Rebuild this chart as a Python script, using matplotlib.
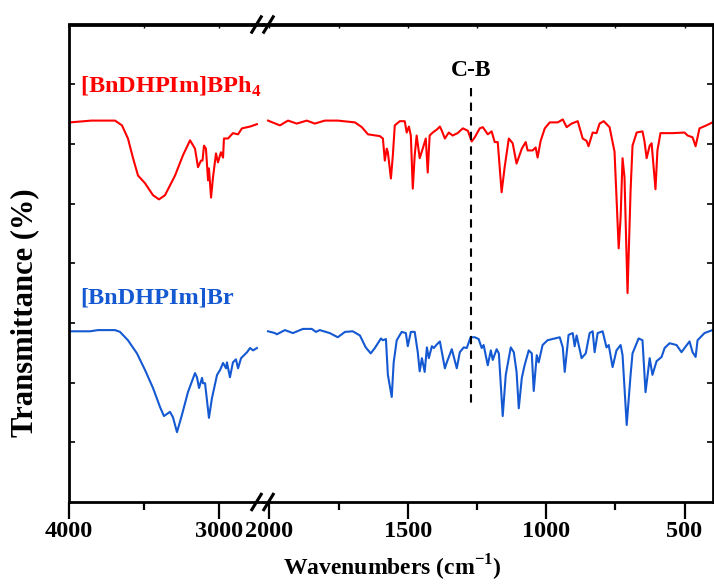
import numpy as np
from matplotlib import pyplot as plt

plt.rcParams['font.family'] = 'Liberation Serif'
plt.rcParams['font.weight'] = 'bold'
plt.rcParams['mathtext.fontset'] = 'custom'
plt.rcParams['mathtext.rm'] = 'Liberation Serif'
plt.rcParams['mathtext.bf'] = 'Liberation Serif:bold'

# [BnDHPIm]BPh4, high wavenumber part (4000 - 2750)
bph4_hi_wn = [3993, 3850, 3693, 3647, 3607, 3573, 3540, 3493, 3440, 3400, 3360, 3293, 3240,
              3193, 3160, 3140, 3120, 3110, 3100, 3087, 3073, 3067, 3053, 3040, 3020, 3007,
              2987, 2973, 2967, 2940, 2907, 2873, 2847, 2793, 2747]
bph4_hi_t = [63.6, 63.9, 63.9, 63.1, 60.9, 57.6, 54.7, 53.4, 51.4, 50.7, 51.4, 54.7, 58.1,
             60.6, 59.2, 56.1, 57.2, 57.2, 59.7, 59.2, 53.9, 55.9, 51.0, 54.4, 58.4, 56.9,
             58.6, 57.7, 60.9, 60.9, 61.8, 61.6, 62.6, 62.9, 63.3]

# [BnDHPIm]BPh4, 2000 - 400
bph4_lo_wn = [2005, 1962, 1933, 1901, 1865, 1836, 1800, 1753, 1691, 1666, 1644, 1601, 1590,
              1583, 1576, 1572, 1561, 1554, 1547, 1529, 1511, 1504, 1496, 1489, 1482, 1475,
              1468, 1457, 1446, 1435, 1428, 1421, 1410, 1395, 1384, 1377, 1366, 1352, 1338,
              1320, 1301, 1283, 1269, 1258, 1240, 1229, 1211, 1197, 1186, 1175, 1161, 1150,
              1135, 1121, 1107, 1088, 1074, 1067, 1049, 1038, 1031, 1020, 1005, 987, 958,
              940, 926, 908, 886, 868, 854, 847, 832, 818, 807, 792, 771, 753, 738, 731,
              724, 717, 706, 695, 688, 673, 652, 645, 637, 626, 619, 605, 598, 587, 543,
              500, 489, 471, 460, 446, 421, 399]
bph4_lo_t = [63.9, 63.1, 63.9, 63.4, 63.9, 63.4, 63.9, 63.9, 63.6, 62.8, 61.6, 61.3, 60.9,
             57.2, 59.2, 58.6, 54.2, 58.1, 63.1, 63.8, 63.8, 61.9, 62.9, 61.4, 52.5, 58.1,
             61.4, 57.6, 59.2, 60.9, 55.2, 61.4, 61.9, 62.4, 62.9, 62.2, 60.9, 61.9, 61.4,
             61.8, 62.6, 62.2, 60.4, 61.1, 62.6, 62.8, 61.6, 62.1, 60.3, 60.3, 51.9, 56.1,
             60.9, 60.1, 56.7, 59.2, 60.3, 58.9, 58.9, 59.4, 57.7, 60.5, 62.6, 63.6, 63.6,
             64.1, 62.8, 63.4, 63.8, 60.9, 60.5, 59.6, 61.9, 61.8, 63.4, 63.8, 62.8, 58.7,
             42.5, 47.7, 57.6, 54.4, 35.0, 52.2, 59.7, 61.9, 62.1, 60.5, 57.6, 59.7, 60.1,
             52.4, 58.9, 61.8, 61.8, 61.9, 61.4, 61.1, 59.6, 62.6, 63.1, 63.6]

# [BnDHPIm]Br, high wavenumber part
br_hi_wn = [3993, 3860, 3807, 3693, 3660, 3607, 3547, 3493, 3440, 3393, 3367, 3327, 3307,
            3280, 3247, 3207, 3160, 3147, 3133, 3113, 3107, 3093, 3067, 3047, 3013, 2993,
            2973, 2953, 2947, 2927, 2907, 2887, 2873, 2853, 2813, 2793, 2773, 2747]
br_hi_t = [28.6, 28.6, 28.8, 28.8, 28.5, 27.1, 24.9, 22.1, 19.1, 15.9, 14.4, 15.1, 14.2,
           11.7, 14.6, 18.4, 21.6, 20.9, 19.1, 20.8, 19.9, 19.9, 14.1, 17.4, 21.3, 22.1,
           23.3, 22.4, 23.4, 20.9, 23.4, 23.9, 22.4, 24.1, 25.1, 25.8, 25.4, 25.8]

# [BnDHPIm]Br, 2000 - 400
br_lo_wn = [2005, 1980, 1973, 1944, 1915, 1879, 1847, 1832, 1818, 1782, 1753, 1727, 1699,
            1673, 1652, 1634, 1619, 1597, 1590, 1579, 1572, 1558, 1551, 1540, 1522, 1507,
            1500, 1489, 1475, 1464, 1457, 1449, 1439, 1431, 1424, 1413, 1406, 1395, 1384,
            1366, 1359, 1341, 1323, 1312, 1298, 1287, 1273, 1258, 1244, 1233, 1226, 1211,
            1200, 1193, 1179, 1171, 1157, 1146, 1128, 1117, 1107, 1099, 1088, 1078, 1063,
            1052, 1045, 1034, 1027, 1013, 995, 969, 951, 940, 933, 919, 904, 897, 890,
            872, 857, 843, 832, 825, 814, 796, 782, 774, 760, 746, 731, 724, 709, 695,
            688, 666, 652, 641, 626, 616, 601, 583, 572, 554, 529, 511, 500, 482, 471,
            460, 453, 428, 399]
br_lo_t = [28.6, 28.3, 28.1, 28.8, 28.3, 29.0, 29.0, 28.5, 28.8, 28.3, 27.6, 28.5, 28.6,
           27.9, 25.9, 24.9, 25.8, 27.4, 27.1, 27.3, 21.3, 17.6, 23.4, 27.1, 28.5, 28.3,
           26.1, 28.5, 28.5, 25.1, 21.9, 24.1, 21.8, 25.9, 24.1, 26.1, 25.8, 26.4, 26.9,
           22.4, 23.4, 25.6, 22.4, 25.1, 25.9, 25.8, 27.6, 27.6, 27.3, 25.8, 26.3, 22.9,
           25.4, 23.8, 25.6, 24.9, 14.4, 21.3, 25.9, 25.1, 21.8, 15.7, 20.8, 22.9, 25.4,
           24.9, 18.6, 24.6, 23.4, 26.3, 27.1, 27.4, 27.6, 25.9, 21.8, 28.0, 28.3, 26.1,
           27.9, 24.1, 24.9, 28.3, 28.6, 25.1, 28.3, 28.6, 25.9, 26.3, 22.6, 25.4, 26.3,
           24.6, 12.9, 21.3, 24.9, 27.4, 27.1, 18.4, 24.1, 21.3, 23.6, 24.3, 25.8, 26.6,
           26.3, 25.1, 25.8, 26.9, 25.1, 24.3, 27.1, 28.3, 28.8]

red = '#ff0000'
blue = '#1459d2'

W, H = 714, 588
fig = plt.figure(figsize=(W / 100, H / 100), dpi=100)


def box(x0, x1, top=24.5, bottom=502):
    return [x0 / W, (H - bottom) / H, (x1 - x0) / W, (bottom - top) / H]


ax1 = fig.add_axes(box(69, 262.5))
ax2 = fig.add_axes(box(262.5, 712.5))

ax1.plot(bph4_hi_wn, bph4_hi_t, color=red, lw=1.5)
ax1.plot(br_hi_wn, br_hi_t, color=blue, lw=1.5)
ax2.plot(bph4_lo_wn, bph4_lo_t, color=red, lw=1.5)
ax2.plot(br_lo_wn, br_lo_t, color=blue, lw=1.5)

ax1.set_xlim(4000, 2710)
ax2.set_xlim(2025, 399)
for ax in (ax1, ax2):
    ax.set_ylim(0, 80)
    for s in ax.spines.values():
        s.set_linewidth(2)
    ax.set_yticks(range(10, 80, 10))
    ax.set_yticklabels([])
    ax.tick_params(axis='x', which='major', direction='out', length=12, width=1.6,
                   labelsize=17.5, pad=2, top=False)
    ax.tick_params(axis='x', which='minor', direction='out', length=6, width=1.6, top=False)
    ax.tick_params(axis='y', direction='in', length=4, width=1.2)

ax1.spines['right'].set_visible(False)
ax2.spines['left'].set_visible(False)
ax1.tick_params(axis='y', left=True, right=False)
ax2.tick_params(axis='y', left=False, right=True)

ax1.set_xticks([4000, 3000])
ax1.set_xticks([3500], minor=True)
ax2.set_xticks([2000, 1500, 1000, 500])
ax2.set_xticks([1750, 1250, 750], minor=True)

# small inner ticks on the top spine
for ax, major, minor in ((ax1, [4000, 3000], [3500]),
                         (ax2, [2000, 1500, 1000, 500], [1750, 1250, 750])):
    sec = ax.secondary_xaxis('top')
    sec.set_xticks(major)
    sec.set_xticks(minor, minor=True)
    sec.tick_params(which='both', direction='in', length=3, width=1, labeltop=False)
    sec.spines['top'].set_linewidth(2)

# C-B marker
ax2.plot([1270, 1270], [69.3, 15.9], color='black', lw=1.5, ls=(0, (4, 3)))
ax2.text(1270, 72.3, 'C-B', ha='center', va='center', fontsize=17)

# axis break marks
for yb in (24.5, 502):
    for xb in (256.5, 268.5):
        fig.add_artist(plt.Line2D([(xb - 5.5) / W, (xb + 5.5) / W],
                                  [(H - yb - 9) / H, (H - yb + 9) / H],
                                  color='black', lw=2.2, transform=fig.transFigure,
                                  solid_capstyle='butt'))

fig.text(80 / W, 1 - 87 / H, r'[BnDHPIm]BPh$_{\mathregular{4}}$', color=red, fontsize=17.5,
         ha='left', va='center')
fig.text(80 / W, 1 - 298 / H, '[BnDHPIm]Br', color=blue, fontsize=17.5,
         ha='left', va='center')

fig.text(25 / W, 1 - 313 / H, 'Transmittance (%)', rotation=90, ha='center', va='center',
         fontsize=22)
fig.text(392 / W, 1 - 568 / H, r'Wavenumbers (cm$^{\mathregular{-1}}$)', ha='center',
         va='center', fontsize=17)

plt.savefig('out.png', dpi=100)
